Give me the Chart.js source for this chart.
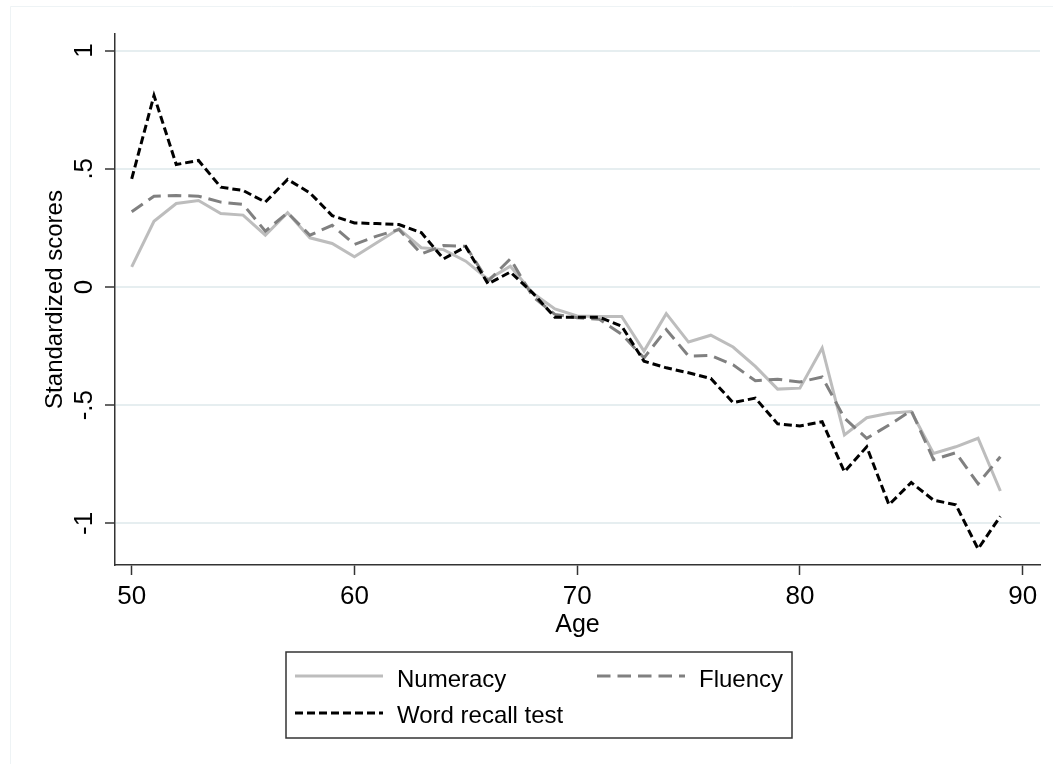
<!DOCTYPE html>
<html>
<head>
<meta charset="utf-8">
<script src="https://cdn.jsdelivr.net/npm/chart.js@4.4.1/dist/chart.umd.min.js"></script>
<style>
  html, body { margin: 0; padding: 0; background: #fff; }
  #wrap { width: 1053px; height: 764px; position: relative; }
</style>
</head>
<body>
<div id="wrap"><canvas id="chart"></canvas></div>
<script>
// values
const ages = [50, 51, 52, 53, 54, 55, 56, 57, 58, 59,
              60, 61, 62, 63, 64, 65, 66, 67, 68, 69,
              70, 71, 72, 73, 74, 75, 76, 77, 78, 79,
              80, 81, 82, 83, 84, 85, 86, 87, 88, 89];

const numeracy = [0.085, 0.278, 0.353, 0.366, 0.311, 0.304, 0.219, 0.314, 0.208, 0.184,
                  0.128, 0.187, 0.246, 0.166, 0.158, 0.109, 0.032, 0.088, -0.025, -0.093,
                  -0.123, -0.125, -0.125, -0.271, -0.113, -0.233, -0.204, -0.254, -0.336, -0.432,
                  -0.428, -0.258, -0.626, -0.553, -0.534, -0.527, -0.704, -0.676, -0.640, -0.863];

const fluency = [0.318, 0.384, 0.387, 0.384, 0.359, 0.349, 0.236, 0.314, 0.219, 0.261,
                 0.180, 0.215, 0.243, 0.140, 0.175, 0.172, 0.025, 0.119, -0.040, -0.116,
                 -0.130, -0.137, -0.200, -0.300, -0.180, -0.292, -0.290, -0.329, -0.397, -0.390,
                 -0.402, -0.381, -0.555, -0.640, -0.584, -0.523, -0.730, -0.701, -0.832, -0.718];

const wordRecall = [0.457, 0.810, 0.518, 0.535, 0.422, 0.408, 0.359, 0.455, 0.398, 0.302,
                    0.271, 0.268, 0.264, 0.230, 0.119, 0.170, 0.013, 0.063, -0.025, -0.128,
                    -0.128, -0.128, -0.166, -0.314, -0.342, -0.363, -0.387, -0.489, -0.470, -0.579,
                    -0.588, -0.570, -0.782, -0.676, -0.921, -0.827, -0.902, -0.921, -1.108, -0.970];

const xTicks = [50, 60, 70, 80, 90];
const yTicks = [-1, -0.5, 0, 0.5, 1];
const yTickLabels = ['-1', '-.5', '0', '.5', '1'];

const FONT = 'Liberation Sans, Arial, Helvetica, sans-serif';
Chart.defaults.font.family = FONT;
Chart.defaults.color = '#000';

function points(values) {
    return ages.map((a, i) => ({ x: a, y: values[i] }));
}

// Stata-like boxed legend with two columns below the plot
const boxLegend = {
    id: 'boxLegend',
    afterDraw(chart) {
        const ctx = chart.ctx;
        const slots = [
            { x: 295, y: 676, base: 686.5 },
            { x: 597, y: 676, base: 686.5 },
            { x: 295, y: 713, base: 722.5 }
        ];
        ctx.save();
        ctx.strokeStyle = '#333';
        ctx.lineWidth = 1.5;
        ctx.strokeRect(286, 652, 506, 86);

        chart.data.datasets.forEach((ds, i) => {
            const s = slots[i];
            ctx.beginPath();
            ctx.setLineDash(ds.borderDash || []);
            ctx.strokeStyle = ds.borderColor;
            ctx.lineWidth = ds.borderWidth;
            ctx.moveTo(s.x, s.y);
            ctx.lineTo(s.x + 88, s.y);
            ctx.stroke();
            ctx.setLineDash([]);
            ctx.fillStyle = '#000';
            ctx.font = '24px ' + FONT;
            ctx.textBaseline = 'alphabetic';
            ctx.textAlign = 'left';
            ctx.fillText(ds.label, s.x + 102, s.base);
        });
        ctx.restore();
    }
};

// faint outer graph-region frame
const frame = {
    id: 'frame',
    beforeDraw(chart) {
        const ctx = chart.ctx;
        ctx.save();
        ctx.fillStyle = '#fff';
        ctx.fillRect(0, 0, chart.width, chart.height);
        ctx.strokeStyle = '#eef3f5';
        ctx.lineWidth = 1;
        ctx.beginPath();
        ctx.moveTo(10.5, chart.height);
        ctx.lineTo(10.5, 6.5);
        ctx.lineTo(chart.width, 6.5);
        ctx.stroke();
        ctx.restore();
    }
};

new Chart(document.getElementById('chart'), {
    type: 'line',
    data: {
        datasets: [
            {
                label: 'Numeracy',
                data: points(numeracy),
                borderColor: '#bdbdbd',
                borderWidth: 3,
                borderDash: [],
                pointRadius: 0,
                tension: 0,
                order: 2
            },
            {
                label: 'Fluency',
                data: points(fluency),
                borderColor: '#808080',
                borderWidth: 3,
                borderDash: [13.5, 7],
                pointRadius: 0,
                tension: 0,
                order: 1
            },
            {
                label: 'Word recall test',
                data: points(wordRecall),
                borderColor: '#000',
                borderWidth: 3,
                borderDash: [8, 4],
                pointRadius: 0,
                tension: 0,
                order: 0
            }
        ]
    },
    options: {
        responsive: true,
        maintainAspectRatio: false,
        animation: false,
        layout: { padding: { left: 0, top: 34, right: 13, bottom: 124 } },
        plugins: {
            legend: { display: false },
            tooltip: { enabled: false }
        },
        scales: {
            x: {
                type: 'linear',
                min: 49.25,
                max: 90.78,
                afterBuildTicks: scale => { scale.ticks = xTicks.map(v => ({ value: v })); },
                afterFit: scale => { scale.height = 75; },
                ticks: {
                    font: { size: 26 },
                    color: '#000',
                    padding: 6,
                    maxRotation: 0,
                    autoSkip: false,
                    callback: v => String(v)
                },
                grid: {
                    drawOnChartArea: false,
                    drawTicks: true,
                    tickLength: 10,
                    tickColor: '#333',
                    tickWidth: 1.5
                },
                border: { display: true, color: '#333', width: 1.5 },
                title: {
                    display: true,
                    text: 'Age',
                    font: { size: 25 },
                    color: '#000',
                    padding: { top: -7, bottom: 0 }
                }
            },
            y: {
                type: 'linear',
                min: -1.176,
                max: 1.07,
                afterBuildTicks: scale => { scale.ticks = yTicks.map(v => ({ value: v })); },
                afterFit: scale => { scale.width = 115; },
                ticks: {
                    font: { size: 26 },
                    color: '#000',
                    padding: 5,
                    minRotation: 90,
                    maxRotation: 90,
                    crossAlign: 'center',
                    autoSkip: false,
                    callback: v => yTickLabels[yTicks.indexOf(v)]
                },
                grid: {
                    color: '#e6eef0',
                    lineWidth: 2,
                    drawTicks: true,
                    tickLength: 10,
                    tickColor: '#333',
                    tickWidth: 1.5
                },
                border: { display: true, color: '#333', width: 1.5 },
                title: {
                    display: true,
                    text: 'Standardized scores',
                    font: { size: 24 },
                    color: '#000',
                    padding: { top: 41, bottom: 0 }
                }
            }
        }
    },
    plugins: [frame, boxLegend]
});
</script>
</body>
</html>
